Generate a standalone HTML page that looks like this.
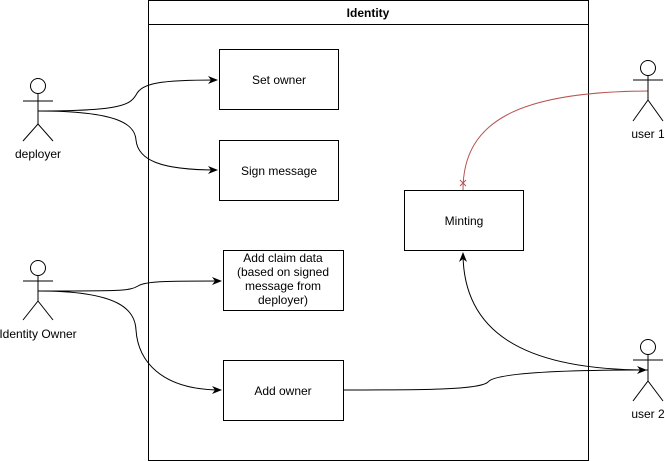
<!DOCTYPE html>
<html><head><meta charset="utf-8"><style>
html,body{margin:0;padding:0;background:#fff;}
svg{display:block;font-family:"Liberation Sans",Helvetica,Arial,sans-serif;}
</style></head><body>
<svg width="665" height="461" viewBox="0 0 665 461" xmlns="http://www.w3.org/2000/svg">
<defs>
<marker id="a" markerWidth="10" markerHeight="8" refX="9" refY="4" orient="auto" markerUnits="userSpaceOnUse">
<path d="M0,0 L10,4 L0,8 L3,4 Z" fill="#000"/>
</marker>
</defs>
<rect x="148.5" y="0.5" width="440" height="460" fill="#fff" stroke="#000"/>
<line x1="148.5" y1="24.5" x2="588.5" y2="24.5" stroke="#000"/>
<text x="368" y="17" font-size="12" font-weight="bold" text-anchor="middle">Identity</text>

<g fill="#fff" stroke="#000">
<rect x="219.5" y="49.5" width="119" height="60"/>
<rect x="219.5" y="140.5" width="119" height="60"/>
<rect x="223.5" y="250.5" width="120" height="60"/>
<rect x="223.5" y="360.5" width="120" height="60"/>
<rect x="404.5" y="190.5" width="119" height="60"/>
</g>
<g font-size="12" text-anchor="middle">
<text x="279" y="84">Set owner</text>
<text x="279" y="175">Sign message</text>
<text x="283" y="262">Add claim data</text>
<text x="283" y="276">(based on signed</text>
<text x="283" y="290">message from</text>
<text x="283" y="304">deployer)</text>
<text x="283" y="395">Add owner</text>
<text x="464" y="225">Minting</text>
</g>

<g fill="none" stroke="#000" stroke-width="1">
<path d="M38,111 C120,111 130,105 136,95 C142,83 160,80 217,80" marker-end="url(#a)"/>
<path d="M38,111 C120,111 135,125 136,140 C138,160 160,170 217,170" marker-end="url(#a)"/>
<path d="M38,291 C120,291 130,291 138,286 C145,281 170,281 221,281" marker-end="url(#a)"/>
<path d="M38,291 C120,291 135,310 136,330 C138,360 160,390 221,390" marker-end="url(#a)"/>
<path d="M343,390 C420,390 480,390 488,382 C495,373 560,370 646,370" marker-end="url(#a)"/>
<path d="M648,370 C520,370 463,330 463,253" marker-end="url(#a)"/>
</g>
<path d="M648,91 C520,92 463,120 463,190" fill="none" stroke="#b85450"/>
<path d="M460,180 L466,186 M466,180 L460,186" stroke="#b85450"/>

<g fill="#fff" stroke="#000">
<circle cx="38" cy="86" r="7.5"/>
<path d="M38,94 V124 M23,101 H53 M38,124 L23,141 M38,124 L53,141" fill="none"/>
<circle cx="38" cy="268" r="7.5"/>
<path d="M38,276 V301 M23,281 H53 M38,301 L23,320 M38,301 L53,320" fill="none"/>
<circle cx="648" cy="68" r="7.5"/>
<path d="M648,76 V100 M633,80 H663 M648,100 L633,121 M648,100 L663,121" fill="none"/>
<circle cx="648" cy="347" r="7.5"/>
<path d="M648,355 V381 M633,360 H663 M648,381 L633,401 M648,381 L663,401" fill="none"/>
</g>
<g font-size="12" text-anchor="middle">
<text x="38" y="158">deployer</text>
<text x="38" y="338">Identity Owner</text>
<text x="648" y="138">user 1</text>
<text x="648" y="418">user 2</text>
</g>
</svg>
</body></html>
